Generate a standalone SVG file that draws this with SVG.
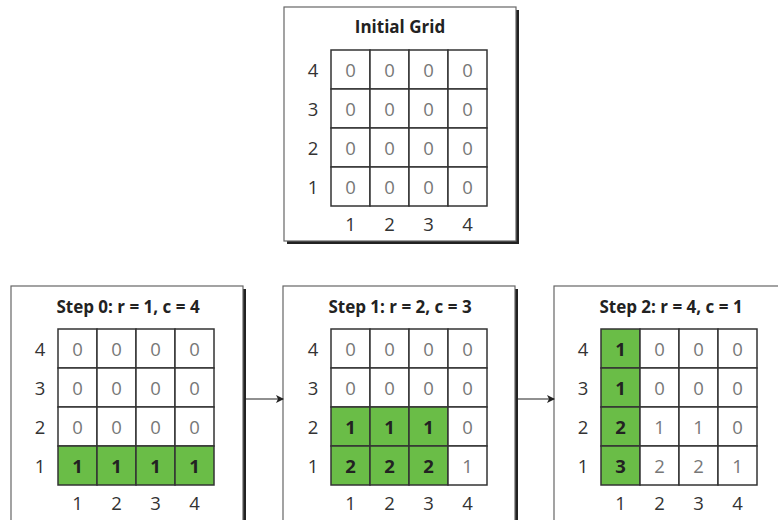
<svg xmlns="http://www.w3.org/2000/svg" width="778" height="520" viewBox="0 0 778 520">
<defs>
<style>
.bg{fill:#ffffff}
.shadow{fill:#222222}
.box{fill:#ffffff;stroke:#666666;stroke-width:1.2}
.cell{fill:#ffffff;stroke:#333333;stroke-width:1.5}
.hl{fill:#6abd47;stroke:#333333;stroke-width:1.5}
.title{font-family:"Open Sans","Noto Sans",sans-serif;font-size:17px;font-weight:bold;fill:#222222;text-anchor:middle}
.lab{font-family:"Open Sans","Noto Sans",sans-serif;font-size:18.5px;fill:#333333;text-anchor:middle}
.v{font-family:"Open Sans","Noto Sans",sans-serif;font-size:18.5px;fill:#777777;text-anchor:middle}
.vb{font-family:"Open Sans","Noto Sans",sans-serif;font-size:18.5px;font-weight:bold;fill:#222222;text-anchor:middle}
.conn{stroke:#222222;stroke-width:1.2;fill:none}
</style>
<marker id="ah" markerWidth="8" markerHeight="8" refX="7" refY="4" orient="auto" markerUnits="userSpaceOnUse">
<path d="M0,0 L8,4 L0,8 L2,4 Z" fill="#222222"/>
</marker>
</defs>
<rect class="bg" x="0" y="0" width="778" height="520"/>

<g id="initial">
<rect class="shadow" x="287" y="10" width="232" height="234"/>
<rect class="box" x="284" y="7" width="232" height="234"/>
<text class="title" x="400" y="33">Initial Grid</text>
<g transform="translate(331,50)">
<rect class="cell" x="0" y="0" width="39" height="39"/><rect class="cell" x="39" y="0" width="39" height="39"/><rect class="cell" x="78" y="0" width="39" height="39"/><rect class="cell" x="117" y="0" width="39" height="39"/>
<rect class="cell" x="0" y="39" width="39" height="39"/><rect class="cell" x="39" y="39" width="39" height="39"/><rect class="cell" x="78" y="39" width="39" height="39"/><rect class="cell" x="117" y="39" width="39" height="39"/>
<rect class="cell" x="0" y="78" width="39" height="39"/><rect class="cell" x="39" y="78" width="39" height="39"/><rect class="cell" x="78" y="78" width="39" height="39"/><rect class="cell" x="117" y="78" width="39" height="39"/>
<rect class="cell" x="0" y="117" width="39" height="39"/><rect class="cell" x="39" y="117" width="39" height="39"/><rect class="cell" x="78" y="117" width="39" height="39"/><rect class="cell" x="117" y="117" width="39" height="39"/>
<text class="v" x="19.5" y="26.5">0</text><text class="v" x="58.5" y="26.5">0</text><text class="v" x="97.5" y="26.5">0</text><text class="v" x="136.5" y="26.5">0</text>
<text class="v" x="19.5" y="65.5">0</text><text class="v" x="58.5" y="65.5">0</text><text class="v" x="97.5" y="65.5">0</text><text class="v" x="136.5" y="65.5">0</text>
<text class="v" x="19.5" y="104.5">0</text><text class="v" x="58.5" y="104.5">0</text><text class="v" x="97.5" y="104.5">0</text><text class="v" x="136.5" y="104.5">0</text>
<text class="v" x="19.5" y="143.5">0</text><text class="v" x="58.5" y="143.5">0</text><text class="v" x="97.5" y="143.5">0</text><text class="v" x="136.5" y="143.5">0</text>
<text class="lab" x="-18" y="26.5">4</text><text class="lab" x="-18" y="65.5">3</text><text class="lab" x="-18" y="104.5">2</text><text class="lab" x="-18" y="143.5">1</text>
<text class="lab" x="19.5" y="180.5">1</text><text class="lab" x="58.5" y="180.5">2</text><text class="lab" x="97.5" y="180.5">3</text><text class="lab" x="136.5" y="180.5">4</text>
</g>
</g>

<g id="step0">
<rect class="shadow" x="14" y="289" width="232" height="240"/>
<rect class="box" x="11" y="286" width="232" height="240"/>
<text class="title" x="128" y="313">Step 0: r = 1, c = 4</text>
<g transform="translate(58,329)">
<rect class="cell" x="0" y="0" width="39" height="39"/><rect class="cell" x="39" y="0" width="39" height="39"/><rect class="cell" x="78" y="0" width="39" height="39"/><rect class="cell" x="117" y="0" width="39" height="39"/>
<rect class="cell" x="0" y="39" width="39" height="39"/><rect class="cell" x="39" y="39" width="39" height="39"/><rect class="cell" x="78" y="39" width="39" height="39"/><rect class="cell" x="117" y="39" width="39" height="39"/>
<rect class="cell" x="0" y="78" width="39" height="39"/><rect class="cell" x="39" y="78" width="39" height="39"/><rect class="cell" x="78" y="78" width="39" height="39"/><rect class="cell" x="117" y="78" width="39" height="39"/>
<rect class="hl" x="0" y="117" width="39" height="39"/><rect class="hl" x="39" y="117" width="39" height="39"/><rect class="hl" x="78" y="117" width="39" height="39"/><rect class="hl" x="117" y="117" width="39" height="39"/>
<text class="v" x="19.5" y="26.5">0</text><text class="v" x="58.5" y="26.5">0</text><text class="v" x="97.5" y="26.5">0</text><text class="v" x="136.5" y="26.5">0</text>
<text class="v" x="19.5" y="65.5">0</text><text class="v" x="58.5" y="65.5">0</text><text class="v" x="97.5" y="65.5">0</text><text class="v" x="136.5" y="65.5">0</text>
<text class="v" x="19.5" y="104.5">0</text><text class="v" x="58.5" y="104.5">0</text><text class="v" x="97.5" y="104.5">0</text><text class="v" x="136.5" y="104.5">0</text>
<text class="vb" x="19.5" y="143.5">1</text><text class="vb" x="58.5" y="143.5">1</text><text class="vb" x="97.5" y="143.5">1</text><text class="vb" x="136.5" y="143.5">1</text>
<text class="lab" x="-18" y="26.5">4</text><text class="lab" x="-18" y="65.5">3</text><text class="lab" x="-18" y="104.5">2</text><text class="lab" x="-18" y="143.5">1</text>
<text class="lab" x="19.5" y="180.5">1</text><text class="lab" x="58.5" y="180.5">2</text><text class="lab" x="97.5" y="180.5">3</text><text class="lab" x="136.5" y="180.5">4</text>
</g>
</g>

<g id="step1">
<rect class="shadow" x="286" y="289" width="232" height="240"/>
<rect class="box" x="283" y="286" width="232" height="240"/>
<text class="title" x="400" y="313">Step 1: r = 2, c = 3</text>
<g transform="translate(331,329)">
<rect class="cell" x="0" y="0" width="39" height="39"/><rect class="cell" x="39" y="0" width="39" height="39"/><rect class="cell" x="78" y="0" width="39" height="39"/><rect class="cell" x="117" y="0" width="39" height="39"/>
<rect class="cell" x="0" y="39" width="39" height="39"/><rect class="cell" x="39" y="39" width="39" height="39"/><rect class="cell" x="78" y="39" width="39" height="39"/><rect class="cell" x="117" y="39" width="39" height="39"/>
<rect class="hl" x="0" y="78" width="39" height="39"/><rect class="hl" x="39" y="78" width="39" height="39"/><rect class="hl" x="78" y="78" width="39" height="39"/><rect class="cell" x="117" y="78" width="39" height="39"/>
<rect class="hl" x="0" y="117" width="39" height="39"/><rect class="hl" x="39" y="117" width="39" height="39"/><rect class="hl" x="78" y="117" width="39" height="39"/><rect class="cell" x="117" y="117" width="39" height="39"/>
<text class="v" x="19.5" y="26.5">0</text><text class="v" x="58.5" y="26.5">0</text><text class="v" x="97.5" y="26.5">0</text><text class="v" x="136.5" y="26.5">0</text>
<text class="v" x="19.5" y="65.5">0</text><text class="v" x="58.5" y="65.5">0</text><text class="v" x="97.5" y="65.5">0</text><text class="v" x="136.5" y="65.5">0</text>
<text class="vb" x="19.5" y="104.5">1</text><text class="vb" x="58.5" y="104.5">1</text><text class="vb" x="97.5" y="104.5">1</text><text class="v" x="136.5" y="104.5">0</text>
<text class="vb" x="19.5" y="143.5">2</text><text class="vb" x="58.5" y="143.5">2</text><text class="vb" x="97.5" y="143.5">2</text><text class="v" x="136.5" y="143.5">1</text>
<text class="lab" x="-18" y="26.5">4</text><text class="lab" x="-18" y="65.5">3</text><text class="lab" x="-18" y="104.5">2</text><text class="lab" x="-18" y="143.5">1</text>
<text class="lab" x="19.5" y="180.5">1</text><text class="lab" x="58.5" y="180.5">2</text><text class="lab" x="97.5" y="180.5">3</text><text class="lab" x="136.5" y="180.5">4</text>
</g>
</g>

<g id="step2">
<rect class="shadow" x="557" y="289" width="232" height="240"/>
<rect class="box" x="554" y="286" width="232" height="240"/>
<text class="title" x="671" y="313">Step 2: r = 4, c = 1</text>
<g transform="translate(601,329)">
<rect class="hl" x="0" y="0" width="39" height="39"/><rect class="cell" x="39" y="0" width="39" height="39"/><rect class="cell" x="78" y="0" width="39" height="39"/><rect class="cell" x="117" y="0" width="39" height="39"/>
<rect class="hl" x="0" y="39" width="39" height="39"/><rect class="cell" x="39" y="39" width="39" height="39"/><rect class="cell" x="78" y="39" width="39" height="39"/><rect class="cell" x="117" y="39" width="39" height="39"/>
<rect class="hl" x="0" y="78" width="39" height="39"/><rect class="cell" x="39" y="78" width="39" height="39"/><rect class="cell" x="78" y="78" width="39" height="39"/><rect class="cell" x="117" y="78" width="39" height="39"/>
<rect class="hl" x="0" y="117" width="39" height="39"/><rect class="cell" x="39" y="117" width="39" height="39"/><rect class="cell" x="78" y="117" width="39" height="39"/><rect class="cell" x="117" y="117" width="39" height="39"/>
<text class="vb" x="19.5" y="26.5">1</text><text class="v" x="58.5" y="26.5">0</text><text class="v" x="97.5" y="26.5">0</text><text class="v" x="136.5" y="26.5">0</text>
<text class="vb" x="19.5" y="65.5">1</text><text class="v" x="58.5" y="65.5">0</text><text class="v" x="97.5" y="65.5">0</text><text class="v" x="136.5" y="65.5">0</text>
<text class="vb" x="19.5" y="104.5">2</text><text class="v" x="58.5" y="104.5">1</text><text class="v" x="97.5" y="104.5">1</text><text class="v" x="136.5" y="104.5">0</text>
<text class="vb" x="19.5" y="143.5">3</text><text class="v" x="58.5" y="143.5">2</text><text class="v" x="97.5" y="143.5">2</text><text class="v" x="136.5" y="143.5">1</text>
<text class="lab" x="-18" y="26.5">4</text><text class="lab" x="-18" y="65.5">3</text><text class="lab" x="-18" y="104.5">2</text><text class="lab" x="-18" y="143.5">1</text>
<text class="lab" x="19.5" y="180.5">1</text><text class="lab" x="58.5" y="180.5">2</text><text class="lab" x="97.5" y="180.5">3</text><text class="lab" x="136.5" y="180.5">4</text>
</g>
</g>

<g id="connectors">
<line class="conn" x1="246" y1="399" x2="283" y2="399" marker-end="url(#ah)"/>
<line class="conn" x1="518" y1="399" x2="554" y2="399" marker-end="url(#ah)"/>
</g>
</svg>
